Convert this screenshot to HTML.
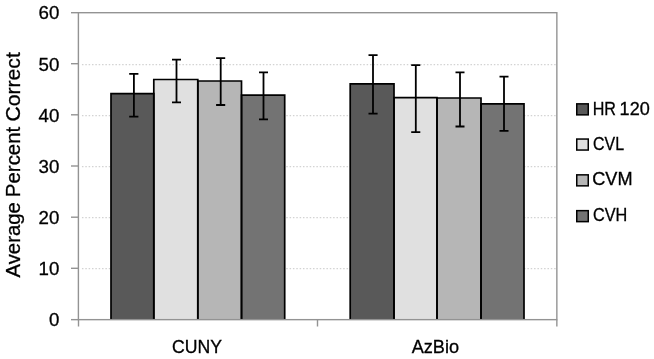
<!DOCTYPE html>
<html><head><meta charset="utf-8">
<style>
html,body{margin:0;padding:0;background:#fff;}
body{width:654px;height:359px;overflow:hidden;}
svg{display:block;will-change:transform;}
text{font-family:"Liberation Sans",sans-serif;fill:#000;stroke:#000;stroke-width:0.3px;}
</style></head>
<body>
<svg width="654" height="359" viewBox="0 0 654 359">
<rect x="0" y="0" width="654" height="359" fill="#fff"/>
<!-- gridlines -->
<g stroke="#d3d3d3" stroke-width="1.4" stroke-dasharray="1.5 1.849" stroke-dashoffset="1.9">
<line x1="80.5" y1="64.6" x2="556" y2="64.6"/>
<line x1="80.5" y1="115.6" x2="556" y2="115.6"/>
<line x1="80.5" y1="166.6" x2="556" y2="166.6"/>
<line x1="80.5" y1="217.6" x2="556" y2="217.6"/>
<line x1="80.5" y1="268.6" x2="556" y2="268.6"/>
</g>
<!-- bars -->
<g stroke="none">
<rect x="111" y="93.7" width="42.8" height="225.95" fill="#595959"/>
<rect x="153.8" y="79.5" width="44.0" height="240.15" fill="#e0e0e0"/>
<rect x="197.8" y="81" width="43.7" height="238.65" fill="#b6b6b6"/>
<rect x="241.5" y="95.2" width="43.2" height="224.45" fill="#737373"/>
<rect x="350.2" y="83.8" width="43.8" height="235.85" fill="#595959"/>
<rect x="394" y="97.7" width="43" height="221.95" fill="#e0e0e0"/>
<rect x="437" y="98" width="44" height="221.65" fill="#b6b6b6"/>
<rect x="481" y="103.8" width="43" height="215.85" fill="#737373"/>
</g>
<g stroke="#000" stroke-width="1.7" fill="none" stroke-linejoin="miter">
<path d="M111 319.65V93.7H153.8V319.65"/>
<path d="M153.8 319.65V79.5H197.8V319.65"/>
<path d="M197.8 319.65V81H241.5V319.65"/>
<path d="M241.5 319.65V95.2H284.7V319.65"/>
<path d="M350.2 319.65V83.8H394V319.65"/>
<path d="M394 319.65V97.7H437V319.65"/>
<path d="M437 319.65V98H481V319.65"/>
<path d="M481 319.65V103.8H524V319.65"/>
</g>
<!-- axes / plot border -->
<g stroke="#939393" stroke-width="1.4" fill="none">
<rect x="78.4" y="12.7" width="478.45" height="306.95"/>
<line x1="71" y1="12.7" x2="78.5" y2="12.7"/>
<line x1="71" y1="63.7" x2="78.5" y2="63.7"/>
<line x1="71" y1="114.8" x2="78.5" y2="114.8"/>
<line x1="71" y1="166" x2="78.5" y2="166"/>
<line x1="71" y1="217.2" x2="78.5" y2="217.2"/>
<line x1="71" y1="268.3" x2="78.5" y2="268.3"/>
<line x1="71" y1="319.65" x2="78.5" y2="319.65"/>
<line x1="78.5" y1="319.5" x2="78.5" y2="326.5"/>
<line x1="317.5" y1="319.5" x2="317.5" y2="326.5"/>
<line x1="556.85" y1="319.5" x2="556.85" y2="326.5"/>
</g>
<!-- error bars -->
<g stroke="#000" stroke-width="1.8" fill="none">
<path d="M133.9 73.8V116.6M129.2 73.8H138.4M129.2 116.6H138.4"/>
<path d="M176.5 59.6V102.3M172 59.6H181M172 102.3H181"/>
<path d="M220.7 58.1V105M216.1 58.1H225.2M216.1 105H225.2"/>
<path d="M263.5 72.4V119.3M259 72.4H268M259 119.3H268"/>
<path d="M373 55.1V113.7M368.5 55.1H377.6M368.5 113.7H377.6"/>
<path d="M415.8 65.1V132.1M411.2 65.1H420.3M411.2 132.1H420.3"/>
<path d="M460 72.3V126.5M455.5 72.3H464.5M455.5 126.5H464.5"/>
<path d="M504 76.6V130.9M499.5 76.6H508.5M499.5 130.9H508.5"/>
</g>
<!-- y tick labels -->
<g font-size="18.7" text-anchor="end">
<text x="59.4" y="19.2">60</text>
<text x="59.4" y="70.8">50</text>
<text x="59.4" y="121.9">40</text>
<text x="59.4" y="173.1">30</text>
<text x="59.4" y="224.3">20</text>
<text x="59.4" y="275.4">10</text>
<text x="59.4" y="326.4">0</text>
</g>
<!-- x labels -->
<g font-size="18.6">
<text x="172.07" y="353" textLength="49.95" lengthAdjust="spacingAndGlyphs">CUNY</text>
<text x="411.7" y="353" textLength="47.41" lengthAdjust="spacingAndGlyphs">AzBio</text>
</g>
<!-- y title -->
<g font-size="20.5">
<text transform="translate(20.1 277.5) rotate(-90)" textLength="75.35" lengthAdjust="spacingAndGlyphs">Average</text>
<text transform="translate(20.1 197.13) rotate(-90)" textLength="70.37" lengthAdjust="spacingAndGlyphs">Percent</text>
<text transform="translate(20.1 121.51) rotate(-90)" textLength="69.34" lengthAdjust="spacingAndGlyphs">Correct</text>
</g>
<!-- legend -->
<g stroke="#000" stroke-width="1.5">
<rect x="576.75" y="103.85" width="11.5" height="11" fill="#595959"/>
<rect x="576.75" y="139.05" width="11.5" height="11" fill="#e0e0e0"/>
<rect x="576.75" y="174.85" width="11.5" height="11" fill="#b6b6b6"/>
<rect x="576.75" y="210.65" width="11.5" height="11" fill="#737373"/>
</g>
<g font-size="17.8">
<text x="592.72" y="114.9" textLength="23.29" lengthAdjust="spacingAndGlyphs">HR</text>
<text x="619.59" y="114.9" textLength="30.15" lengthAdjust="spacingAndGlyphs">120</text>
<text x="593.05" y="150" textLength="31.02" lengthAdjust="spacingAndGlyphs">CVL</text>
<text x="592.24" y="185.3" textLength="40.3" lengthAdjust="spacingAndGlyphs">CVM</text>
<text x="593.04" y="220.9" textLength="34.34" lengthAdjust="spacingAndGlyphs">CVH</text>
</g>
</svg>
</body></html>
